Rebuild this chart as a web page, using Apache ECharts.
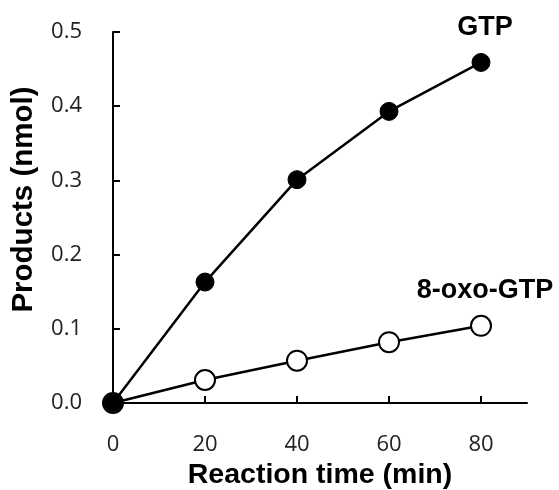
<!DOCTYPE html>
<html>
<head>
<meta charset="utf-8">
<script src="https://cdn.jsdelivr.net/npm/echarts@6/dist/echarts.min.js"></script>
<style>
  html, body { margin: 0; padding: 0; background: #fff; }
  #chart { width: 559px; height: 490px; }
</style>
</head>
<body>
<div id="chart"></div>
<script>
// reaction time (min)
var times = [0, 20, 40, 60, 80];
// products (nmol)
var gtpValues = [0, 0.163, 0.301, 0.393, 0.459];
var oxoValues = [0, 0.031, 0.057, 0.082, 0.104];
var xTicks = [0, 20, 40, 60, 80];
var seriesNames = ['GTP', '8-oxo-GTP'];

var font = '"Liberation Sans", Arial, sans-serif';
var tickFont = '"Open Sans", "Liberation Sans", sans-serif';

function makeData(vals, name) {
  return vals.map(function (v, i) {
    var item = { value: [times[i], v] };
    if (i === vals.length - 1) {
      item.label = {
        show: true,
        formatter: name,
        position: 'inside',
        offset: [4, -35],
        color: '#000',
        fontFamily: font,
        fontWeight: 'bold',
        fontSize: 27
      };
    }
    return item;
  });
}

var myChart = echarts.init(document.getElementById('chart'));
myChart.setOption({
  animation: false,
  backgroundColor: '#fff',
  grid: { left: 113, top: 32, width: 414, height: 371, outerBoundsMode: 'none', containLabel: false },
  xAxis: {
    type: 'value',
    min: 0,
    max: 90,
    name: 'Reaction time (min)',
    nameLocation: 'middle',
    nameGap: 54,
    nameTextStyle: { fontFamily: font, fontWeight: 'bold', fontSize: 28.5, color: '#000' },
    axisLine: { lineStyle: { color: '#000', width: 2 } },
    axisTick: { inside: true, length: 7, lineStyle: { color: '#000', width: 2 }, customValues: xTicks },
    axisLabel: { margin: 31, fontFamily: tickFont, fontSize: 22, color: '#222', customValues: xTicks },
    splitLine: { show: false }
  },
  yAxis: {
    type: 'value',
    min: 0,
    max: 0.5,
    interval: 0.1,
    name: 'Products (nmol)',
    nameLocation: 'middle',
    nameGap: 74,
    nameTextStyle: { fontFamily: font, fontWeight: 'bold', fontSize: 29.5, color: '#000', padding: [0, 0, 0, 36] },
    axisLine: { show: true, lineStyle: { color: '#000', width: 2 } },
    axisTick: { show: true, inside: true, length: 7, lineStyle: { color: '#000', width: 2 } },
    axisLabel: {
      margin: 31, fontFamily: tickFont, fontSize: 22, color: '#222',
      formatter: function (v) { return v.toFixed(1); }
    },
    splitLine: { show: false }
  },
  series: [
    {
      name: seriesNames[1],
      type: 'line',
      data: makeData(oxoValues, seriesNames[1]),
      symbol: 'circle',
      symbolSize: 20,
      z: 2,
      lineStyle: { color: '#000', width: 2.5 },
      itemStyle: { color: '#fff', borderColor: '#000', borderWidth: 2 }
    },
    {
      name: seriesNames[0],
      type: 'line',
      data: makeData(gtpValues, seriesNames[0]),
      symbol: 'circle',
      symbolSize: 18,
      z: 3,
      lineStyle: { color: '#000', width: 2.5 },
      itemStyle: { color: '#000', borderColor: '#000', borderWidth: 1 }
    }
  ]
});
</script>
</body>
</html>
